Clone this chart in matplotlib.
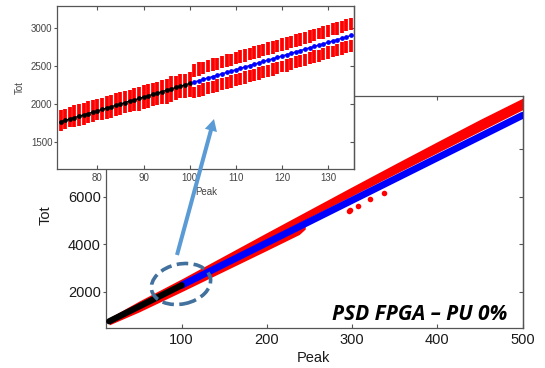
import matplotlib
matplotlib.use('Agg')
import matplotlib.pyplot as plt
from matplotlib.patches import Ellipse, FancyArrowPatch, ArrowStyle

plt.rcParams['font.family'] = ['Liberation Sans', 'DejaVu Sans']

# ---------------- main chart data ----------------
black_peak = [15, 50, 100]
black_tot = [750, 1375, 2270]
blue_peak = [100, 150, 200, 250, 300, 350, 400, 450, 500]
blue_tot = [2270, 3165, 4060, 4955, 5850, 6745, 7640, 8535, 9430]

red_up_peak = [15, 50, 100, 150, 200, 250, 300, 350, 400, 450, 500]
red_up_top = [900, 1605, 2540, 3515, 4490, 5455, 6420, 7375, 8320, 9255, 10150]
red_up_bot = [700, 1300, 2200, 3285, 4205, 5130, 6040, 6950, 7855, 8760, 9665]

red_lo_peak = [15, 50, 100, 150, 200, 238, 245]
red_lo_top = [750, 1375, 2270, 3165, 4060, 4740, 4866]
red_lo_bot = [600, 1145, 2000, 2870, 3740, 4410, 4640]

out_peak = [296, 298, 307, 321, 338]
out_tot = [5400, 5430, 5620, 5900, 6150]

main_xticks = [100, 200, 300, 400, 500]
main_yticks = [2000, 4000, 6000, 8000]

# ---------------- inset data ----------------
black_in_peak = list(range(72, 101))
black_in_tot = [1770, 1788, 1806, 1824, 1842, 1860, 1877, 1895, 1913, 1931,
                1949, 1967, 1985, 2003, 2021, 2039, 2056, 2074, 2092, 2110,
                2128, 2146, 2164, 2182, 2200, 2218, 2235, 2253, 2271]
blue_in_peak = list(range(101, 136))
blue_in_tot = [2289, 2307, 2325, 2343, 2361, 2379, 2397, 2414, 2432, 2450,
               2468, 2486, 2504, 2522, 2540, 2558, 2576, 2593, 2611, 2629,
               2647, 2665, 2683, 2701, 2719, 2737, 2755, 2772, 2790, 2808,
               2826, 2844, 2862, 2880, 2898]

red_single_hi = [1923, 1930, 1959, 1990, 1995, 2013, 2040, 2048, 2066, 2075,
                 2102, 2120, 2150, 2156, 2174, 2185, 2209, 2227, 2255, 2263,
                 2281, 2290, 2317, 2335, 2365, 2371, 2388, 2400, 2424]
red_single_lo = [1652, 1668, 1695, 1700, 1716, 1722, 1747, 1763, 1790, 1795,
                 1811, 1815, 1843, 1859, 1885, 1891, 1906, 1910, 1938, 1954,
                 1980, 1986, 2002, 2008, 2034, 2050, 2075, 2081, 2097]

red_upper_lo = [2355, 2373, 2391, 2416, 2427, 2445, 2471, 2480, 2498, 2524,
                2534, 2552, 2576, 2588, 2606, 2631, 2642, 2659, 2684, 2695,
                2713, 2736, 2749, 2767, 2791, 2803, 2821, 2846, 2856, 2874,
                2898, 2910, 2928, 2951, 2964]
red_upper_hi = [2519, 2545, 2555, 2573, 2600, 2609, 2627, 2652, 2662, 2680,
                2705, 2716, 2734, 2760, 2770, 2788, 2812, 2823, 2841, 2866,
                2877, 2895, 2920, 2931, 2949, 2975, 2985, 3002, 3028, 3038,
                3056, 3080, 3092, 3110, 3128]
red_lower_hi = [2230, 2248, 2271, 2284, 2302, 2326, 2338, 2355, 2379, 2391,
                2409, 2433, 2445, 2463, 2487, 2499, 2517, 2540, 2552, 2570,
                2594, 2606, 2624, 2647, 2660, 2678, 2702, 2713, 2731, 2755,
                2767, 2785, 2809, 2821, 2839]
red_lower_lo = [2074, 2092, 2104, 2128, 2146, 2158, 2182, 2199, 2211, 2235,
                2253, 2265, 2289, 2307, 2319, 2343, 2361, 2372, 2396, 2414,
                2426, 2450, 2468, 2480, 2504, 2522, 2534, 2557, 2575, 2587,
                2611, 2629, 2641, 2665, 2683]

inset_xticks = [80, 90, 100, 110, 120, 130]
inset_yticks = [1500, 2000, 2500, 3000]

# ---------------- figure ----------------
W, H = 545, 368
fig = plt.figure(figsize=(W / 100, H / 100), dpi=100)

SP = '#555555'

def fx(px):
    return px / W

def fy(py):
    return 1 - py / H

# main axes
ax = fig.add_axes([fx(105.5), fy(327.5), (522.5 - 105.5) / W, (327.5 - 96) / H])
ax.fill_between(red_up_peak, red_up_bot, red_up_top, color='#ff0000', lw=0, zorder=2)
ax.fill_between(red_lo_peak, red_lo_bot, red_lo_top, color='#ff0000', lw=0, zorder=2)
ax.plot(blue_peak, blue_tot, color='#0000ff', lw=5.0, solid_capstyle='round', zorder=3)
ax.plot(black_peak, black_tot, color='black', lw=4.5, solid_capstyle='round', zorder=4)
ax.scatter(out_peak, out_tot, s=16, color='#ff0000', lw=0, zorder=2)
ax.set_xlim(10.6, 500)
ax.set_ylim(490, 10245)
ax.set_xticks(main_xticks)
ax.set_yticks(main_yticks)
for s in ax.spines.values():
    s.set_color(SP)
    s.set_linewidth(0.9)
ax.tick_params(axis='x', direction='in', top=True, length=3, width=0.8, color=SP,
               labelsize=10.5, pad=4, labelcolor='#1a1a1a')
ax.tick_params(axis='y', direction='out', length=2.5, width=0.8, color=SP,
               labelsize=10.5, pad=1, labelcolor='#1a1a1a')
sec = ax.secondary_yaxis('right')
sec.set_yticks(main_yticks)
sec.tick_params(direction='in', length=3, width=0.8, color=SP, labelright=False)
sec.spines['right'].set_color(SP)
sec.spines['right'].set_linewidth(0.9)

fig.text(fx(46), fy(215), 'Tot', rotation=90, ha='center', va='center',
         fontsize=10.5, color='#1a1a1a')
fig.text(fx(313), fy(358), 'Peak', ha='center', va='center',
         fontsize=10.5, color='#1a1a1a')

# inset axes
ax2 = fig.add_axes([fx(57.3), fy(169.3), (354.3 - 57.3) / W, (169.3 - 6) / H])
ax2.set_facecolor('white')
ax2.vlines(black_in_peak, red_single_lo, red_single_hi, colors='#ff0000', lw=2.7, zorder=2)
ax2.vlines(blue_in_peak, red_upper_lo, red_upper_hi, colors='#ff0000', lw=2.7, zorder=2)
ax2.vlines(blue_in_peak, red_lower_lo, red_lower_hi, colors='#ff0000', lw=2.7, zorder=2)
ax2.plot(black_in_peak, black_in_tot, '-o', color='black', lw=1.0, ms=2.4, zorder=3)
ax2.plot(blue_in_peak, blue_in_tot, '-o', color='#0000ff', lw=1.0, ms=2.4, zorder=3)
ax2.set_xlim(71.3, 135.7)
ax2.set_ylim(1147, 3284)
ax2.set_xticks(inset_xticks)
ax2.set_yticks(inset_yticks)
for s in ax2.spines.values():
    s.set_color(SP)
    s.set_linewidth(0.9)
ax2.tick_params(axis='x', direction='in', top=True, length=3, width=0.8, color=SP,
                labelsize=7, pad=3, labelcolor='#444444')
ax2.tick_params(axis='y', direction='out', length=2.5, width=0.8, color=SP,
                labelsize=7, pad=1, labelcolor='#444444')
sec2 = ax2.secondary_yaxis('right')
sec2.set_yticks(inset_yticks)
sec2.tick_params(direction='in', length=3, width=0.8, color=SP, labelright=False)
sec2.spines['right'].set_color(SP)
sec2.spines['right'].set_linewidth(0.9)

fig.text(fx(20), fy(88), 'Tot', rotation=90, ha='center', va='center',
         fontsize=7, color='#444444')
fig.text(fx(206), fy(192), 'Peak', ha='center', va='center',
         fontsize=7, color='#444444')

# annotations
ell = Ellipse((181 / 100, (H - 284) / 100), 0.60, 0.40, angle=12,
              transform=fig.dpi_scale_trans, fill=False, edgecolor='#41719C',
              lw=2.6, linestyle=(0, (3.2, 1.5)), zorder=5)
fig.add_artist(ell)

arr = FancyArrowPatch((fx(177), fy(255)), (fx(214), fy(119)),
                      transform=fig.transFigure,
                      arrowstyle=ArrowStyle.Simple(head_length=8.5, head_width=9, tail_width=2.9),
                      mutation_scale=1, color='#5B9BD5', lw=0, shrinkA=0, shrinkB=0, zorder=6)
fig.add_artist(arr)

fig.text(fx(507), fy(320), 'PSD FPGA \u2013 PU 0%', ha='right', va='baseline',
         fontsize=15, fontweight='bold', fontstyle='italic',
         family=['Open Sans', 'DejaVu Sans'], color='black')

fig.savefig('out.png', dpi=100)
